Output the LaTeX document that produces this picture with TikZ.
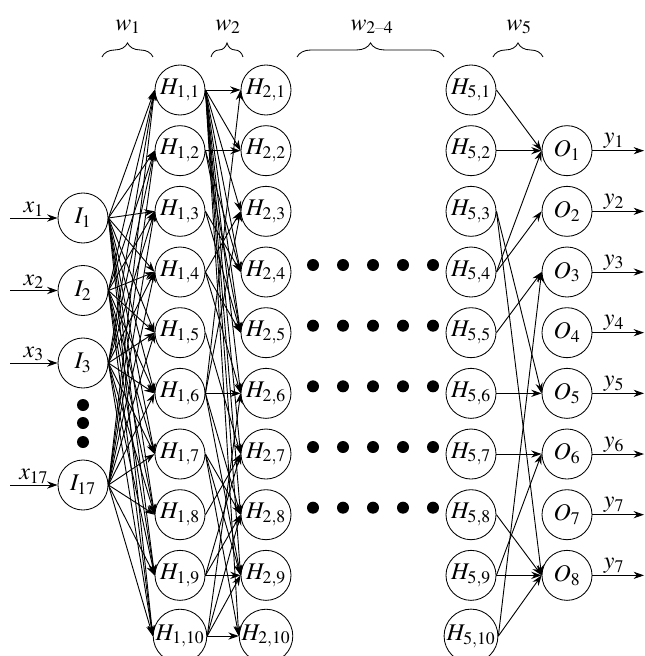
\documentclass[tikz,border=0pt]{standalone}
\usepackage{amsmath}
\usepackage{mathptmx}
\usetikzlibrary{arrows.meta,decorations.pathreplacing}

\tikzset{
    neuron/.style={draw, circle, minimum size=1.25cm, inner sep=0pt, line width=0.6pt,
        font=\fontsize{17}{20}\selectfont},
    link/.style={-{Stealth[length=2.6mm,width=1.8mm]}, line width=0.65pt},
    wbrace/.style={decorate, decoration={brace, amplitude=10pt}, line width=0.6pt},
    lbl/.style={font=\fontsize{17}{20}\selectfont, inner sep=1pt}
}

\begin{document}
\begin{tikzpicture}[x=0.025cm, y=-0.025cm]
    \useasboundingbox (0,0) rectangle (644,656);

    % input layer
    \node[neuron] (I1) at (83,218) {$I_1$};
    \node[neuron] (I2) at (83,290.5) {$I_2$};
    \node[neuron] (I3) at (83,363) {$I_3$};
    \node[neuron] (I17) at (83,485) {$I_{17}$};
    \foreach \d in {405,423,442}
        \fill (83,\d) circle (0.15cm);

    % hidden layers and output layer
    \foreach \k [evaluate=\k as \yy using 90+(\k-1)*60.67] in {1,...,10} {
        \node[neuron] (Ha\k) at (180,\yy) {$H_{1,\k}$};
        \node[neuron] (Hb\k) at (266,\yy) {$H_{2,\k}$};
        \node[neuron] (He\k) at (471,\yy) {$H_{5,\k}$};
    }
    \foreach \k [evaluate=\k as \yy using 90+\k*60.67] in {1,...,8}
        \node[neuron] (O\k) at (567,\yy) {$O_\k$};

    % hidden layers 2--4 left out
    \foreach \r in {0,...,4}
        \foreach \c in {0,...,4}
            \fill (313+30*\c,265+60.67*\r) circle (0.15cm);

    % inputs x and outputs y
    \foreach \i in {1,2,3,17} {
        \coordinate (in\i) at (10,0 |- I\i);
        \draw[link] (in\i) -- (I\i) node[lbl, midway, above] {$x_{\i}$};
    }
    \foreach \k/\t in {1/1,2/2,3/3,4/4,5/5,6/6,7/7,8/7} {
        \coordinate (out\k) at (644,0 |- O\k);
        \draw[link] (O\k) -- (out\k) node[lbl, midway, above, xshift=-3pt] {$y_{\t}$};
    }

    % weights w1
    \foreach \i in {1,2,3,17}
        \foreach \k in {1,...,10}
            \draw[link] (I\i.east) -- (Ha\k.west);

    % weights w2
    \foreach \a/\b in {1/1,1/2,1/3,1/4,1/5,1/6,1/7,1/8,1/9,1/10,
                       2/2,2/4,2/5,3/4,3/5,4/3,4/5,4/6,5/7,
                       6/1,6/3,6/6,6/8,6/9,7/8,7/9,7/10,8/7,
                       9/7,9/8,9/9,10/6,10/8,10/9,10/10}
        \draw[link] (Ha\a.east) -- (Hb\b.west);

    % weights w5
    \foreach \a/\b in {1/1,2/1,4/1,4/2,3/5,3/8,5/3,6/5,7/6,
                       8/8,9/8,9/6,10/8,10/3}
        \draw[link] (He\a.east) -- (O\b.west);

    % braces
    \draw[wbrace] (102,57) -- (153,57);
    \draw[wbrace] (211,57) -- (243,57);
    \draw[wbrace] (297,57) -- (444,57);
    \draw[wbrace] (493,57) -- (543,57);
    \node[lbl] (w1) at (128,27) {$w_1$};
    \node[lbl] (w2) at (228,27) {$w_2$};
    \node[lbl] (w24) at (372,27) {$w_{2\text{--}4}$};
    \node[lbl] (w5) at (519,27) {$w_5$};

\end{tikzpicture}
\end{document}
